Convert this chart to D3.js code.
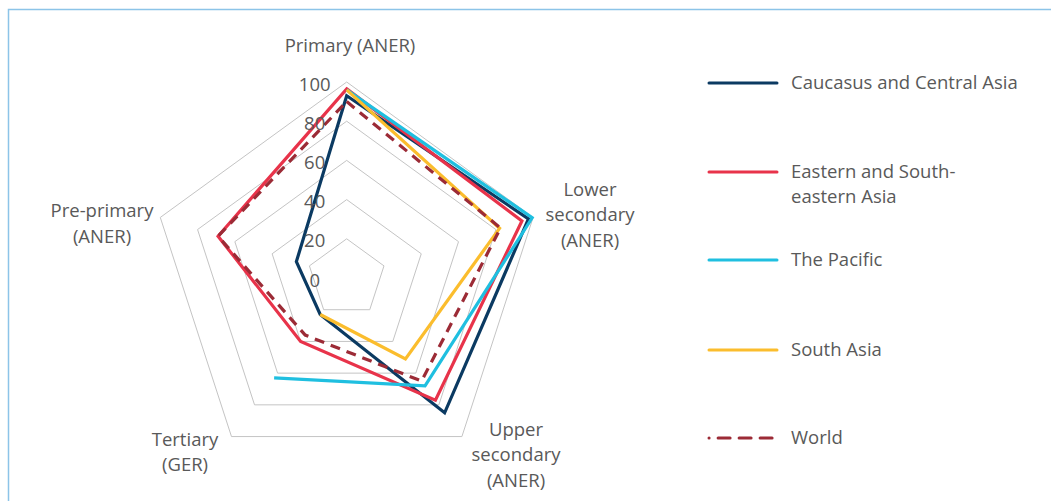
<!DOCTYPE html>
<html>
<head>
<meta charset="utf-8">
<script src="https://cdn.jsdelivr.net/npm/d3@7"></script>
<style>
  html, body { margin: 0; padding: 0; background: #fff; }
  svg { display: block; }
  text { font-family: "Open Sans", "Noto Sans", sans-serif; fill: #595959; }
</style>
</head>
<body>
<svg id="chart" width="1051" height="501"></svg>
<script>
// ---- data ----
const axisLabels = [
  ["Primary (ANER)"],
  ["Lower", "secondary", "(ANER)"],
  ["Upper", "secondary", "(ANER)"],
  ["Tertiary", "(GER)"],
  ["Pre-primary", "(ANER)"]
];
const tickValues = [0, 20, 40, 60, 80, 100];
const seriesNames = ["Caucasus and Central Asia", "Eastern and South-eastern Asia", "The Pacific", "South Asia", "World"];
const caucasus  = [93, 97.5, 85, 23, 27];
const eastSE    = [96.5, 94, 77, 40, 69];
const pacific   = [96, 99.5, 68, 63, null];
const southAsia = [96, 82, 51, 23, null];
const world     = [90, 82.5, 65, 36, 69];

const seriesValues = [caucasus, eastSE, pacific, southAsia, world];
const colors = ["#0b3a62", "#e8334a", "#1fbfe0", "#fbbd2d", "#9c2b36"];
const dashed = [false, false, false, false, true];
const legendLines = [["Caucasus and Central Asia"], ["Eastern and South-", "eastern Asia"], ["The Pacific"], ["South Asia"], ["World"]];

// ---- layout ----
const FS = 18.5;
const svg = d3.select("#chart");
svg.append("rect").attr("x", 8.5).attr("y", 9.5).attr("width", 1060).attr("height", 510)
  .attr("fill", "none").attr("stroke", "#8cc4e8").attr("stroke-width", 1.5);

const cx = 346.7, cy = 278, R = 196;
const n = axisLabels.length;
const r = d3.scaleLinear().domain([0, 100]).range([0, R]);
const ang = d3.scaleLinear().domain([0, n]).range([0, 2 * Math.PI]);
const pt = (i, v) => [cx + r(v) * Math.sin(ang(i)), cy - r(v) * Math.cos(ang(i))];

const g = svg.append("g");

// grid pentagons
tickValues.filter(t => t > 0).forEach(t => {
  const pts = d3.range(n).map(i => pt(i, t));
  g.append("path").attr("d", d3.line()(pts) + "Z")
    .attr("fill", "none").attr("stroke", "#c4c4c4").attr("stroke-width", 1);
});

// series
const line = d3.line().defined(d => d[2] != null).x(d => d[0]).y(d => d[1]);
seriesValues.forEach((vals, s) => {
  const closed = vals.every(v => v != null);
  const data = vals.map((v, i) => v == null ? [0, 0, null] : [...pt(i, v), v]);
  g.append("path").attr("d", closed ? line(data) + "Z" : line(data))
    .attr("fill", "none").attr("stroke", colors[s]).attr("stroke-width", 3.2)
    .attr("stroke-linejoin", "miter")
    .attr("stroke-dasharray", dashed[s] ? "10,7" : null);
});

// tick labels
tickValues.forEach(t => {
  g.append("text").attr("x", cx - 32).attr("y", cy - r(t) + 1)
    .attr("text-anchor", "middle").attr("dominant-baseline", "central")
    .attr("font-size", FS).text(t);
});

// axis labels
const labelPos = [[350, [44]], [590, [188, 213.5, 239]], [516, [428, 453.5, 479]], [185, [438, 463.5]], [102, [209, 235]]];
axisLabels.forEach((lines, i) => {
  lines.forEach((l, k) => {
    g.append("text").attr("x", labelPos[i][0]).attr("y", labelPos[i][1][k])
      .attr("text-anchor", "middle").attr("dominant-baseline", "central")
      .attr("font-size", FS).text(l);
  });
});

// legend
const legY = [83, 172, 260, 350, 438];
const legTextY = [[81], [170, 195], [258], [348], [436]];
seriesNames.forEach((name, s) => {
  svg.append("line").attr("x1", 709).attr("x2", 777).attr("y1", legY[s]).attr("y2", legY[s])
    .attr("stroke", colors[s]).attr("stroke-width", 3).attr("stroke-linecap", "round")
    .attr("stroke-dasharray", dashed[s] ? "0.1,9 12,9 12,9 12,9" : null);
  legendLines[s].forEach((l, k) => {
    svg.append("text").attr("x", 791).attr("y", legTextY[s][k])
      .attr("dominant-baseline", "central").attr("font-size", FS).text(l);
  });
});
</script>
</body>
</html>
